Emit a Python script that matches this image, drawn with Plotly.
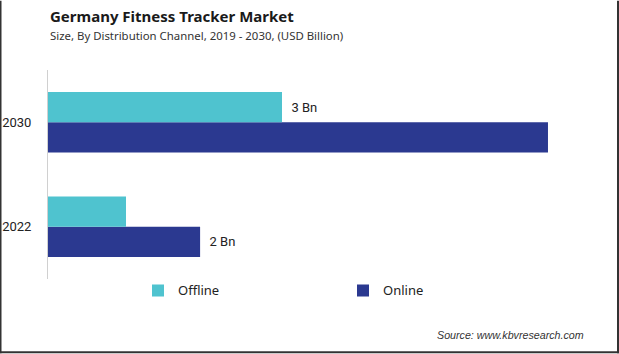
import plotly.graph_objects as go

years = ["2022", "2030"]
offline = [1.0, 3.0]
online = [1.95, 6.41]
offline_labels = ["", "3 Bn"]
online_labels = ["2 Bn", ""]

W, H = 619, 354
L, R, T, B = 48, 25, 69.5, 74.5
pw = W - L - R
ph = H - T - B

def px(x):
    return (x - L) / pw

def py(y):
    return 1 - (y - T) / ph

label_font = dict(family="Roboto, sans-serif", size=13, color="#222")

fig = go.Figure()
fig.add_trace(go.Bar(
    y=years, x=online, name="Online", orientation="h",
    marker=dict(color="#2B3990", line=dict(width=0)),
    text=["  " + t if t else "" for t in online_labels], textposition="outside", cliponaxis=False,
    textfont=label_font, legendrank=2,
))
fig.add_trace(go.Bar(
    y=years, x=offline, name="Offline", orientation="h",
    marker=dict(color="#4FC3CF", line=dict(width=0)),
    text=["  " + t if t else "" for t in offline_labels], textposition="outside", cliponaxis=False,
    textfont=label_font, legendrank=1,
))

fig.update_layout(
    width=W, height=H,
    margin=dict(l=L, r=R, t=T, b=B, autoexpand=False),
    paper_bgcolor="white", plot_bgcolor="white",
    barmode="group", bargap=0.42, bargroupgap=0,
    showlegend=True,
    legend=dict(orientation="h", x=px(138), y=py(291), xanchor="left", yanchor="middle",
                entrywidth=160, entrywidthmode="pixels",
                font=dict(family="Noto Sans, sans-serif", size=13, color="#222"),
                itemwidth=30, tracegroupgap=0),
    xaxis=dict(range=[0, 7], visible=False, showgrid=False, zeroline=False),
    yaxis=dict(type="category", categoryorder="array", categoryarray=years,
               range=[-0.5, 1.5], showline=True, linecolor="#D0D0D0", linewidth=1,
               showgrid=False, ticks="", ticklabelstandoff=13, automargin=False,
               tickfont=label_font),
)

fig.add_annotation(text="<b>Germany Fitness Tracker Market</b>", xref="paper", yref="paper",
                   x=px(48), y=py(15), xanchor="left", yanchor="middle", showarrow=False,
                   font=dict(family="Noto Sans, sans-serif", size=15, color="#1a1a1a"))
fig.add_annotation(text="Size, By Distribution Channel, 2019 - 2030, (USD Billion)", xref="paper", yref="paper",
                   x=px(48), y=py(34.5), xanchor="left", yanchor="middle", showarrow=False,
                   font=dict(family="Noto Sans, sans-serif", size=11.4, color="#333"))
fig.add_annotation(text="<i>Source: www.kbvresearch.com</i>", xref="paper", yref="paper",
                   x=px(586), y=py(336), xanchor="right", yanchor="middle", showarrow=False,
                   font=dict(family="Liberation Sans, Arial, sans-serif", size=10.7, color="#333"))

# frame border (left, right, bottom)
for x0, y0, x1, y1 in [(0.5, 0, 0.5, H), (W - 1, 0, W - 1, H), (0, H - 1, W, H - 1)]:
    fig.add_shape(type="line", xref="paper", yref="paper",
                  x0=px(x0), y0=py(y0), x1=px(x1), y1=py(y1),
                  line=dict(color="#333", width=2))

fig.write_html("out.html")
